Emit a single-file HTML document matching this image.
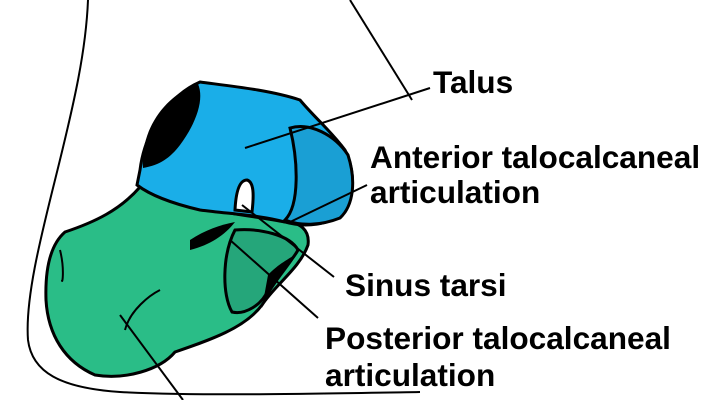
<!DOCTYPE html><html><head><style>body{margin:0;background:#fff}svg{display:block}text{font-family:"Liberation Sans",sans-serif;font-weight:bold;font-size:31.6px;fill:#000}</style></head><body>
<svg width="724" height="400" viewBox="0 0 724 400">
<path d="M88,0 C86,50 75,100 55,180 C40,240 25,300 28,340 C32,372 60,388 120,392 C200,396 300,394 420,392" fill="none" stroke="#000" stroke-width="2"/>
<path d="M350,0 L412,100" fill="none" stroke="#000" stroke-width="2"/>
<path d="M140,187 C120,210 95,222 65,232 C50,245 45,270 46,300 C48,335 65,362 95,375 C125,380 160,370 175,352 C210,340 245,328 262,305 C275,285 300,268 308,245 C310,230 300,222 285,222 C250,215 200,212 150,192 Z" fill="#2abd87" stroke="#000" stroke-width="3"/>
<path d="M235,230 C260,228 290,235 298,250 C290,265 275,275 268,290 C262,305 245,315 232,312 C222,295 222,255 235,230 Z" fill="#25a67a" stroke="#000" stroke-width="3"/>
<path d="M268,275 C280,262 292,258 298,252 C288,270 272,285 262,308 Z" fill="#000"/>
<path d="M190,240 C205,230 220,225 235,222 C225,235 210,245 190,250 Z" fill="#000"/>
<path d="M140,170 C145,130 170,95 200,82 C230,86 270,90 300,100 C315,118 330,130 345,150 C355,170 355,195 345,212 C330,225 305,228 285,222 C260,215 230,214 200,210 C170,203 150,195 137,185 Z" fill="#1aaee8" stroke="#000" stroke-width="3"/>
<path d="M290,128 C310,122 335,135 348,155 C356,180 354,205 340,218 C320,226 300,226 285,220 C300,205 298,160 290,128 Z" fill="#1a9fd4" stroke="#000" stroke-width="3"/>
<path d="M143,168 C140,130 165,95 198,84 C205,100 195,125 180,145 C170,158 160,165 143,168 Z" fill="#000"/>
<path d="M235,210 C236,190 240,180 247,180 C254,182 254,195 252,212 Z" fill="#fff" stroke="#000" stroke-width="3"/>
<g stroke="#000" stroke-width="2" fill="none">
<line x1="430" y1="88" x2="245" y2="148"/>
<line x1="367" y1="185" x2="290" y2="222"/>
<line x1="334" y1="277" x2="242" y2="205"/>
<line x1="318" y1="318" x2="230" y2="240"/>
<line x1="120" y1="315" x2="183" y2="400"/>
<path d="M125,330 C130,310 150,295 160,290"/><path d="M60,250 C65,270 62,285 62,280"/>
</g>
<text x="433" y="93">Talus</text>
<text x="370" y="168">Anterior talocalcaneal</text>
<text x="370" y="203">articulation</text>
<text x="345" y="296">Sinus tarsi</text>
<text x="325" y="349">Posterior talocalcaneal</text>
<text x="325" y="386">articulation</text>
</svg></body></html>
